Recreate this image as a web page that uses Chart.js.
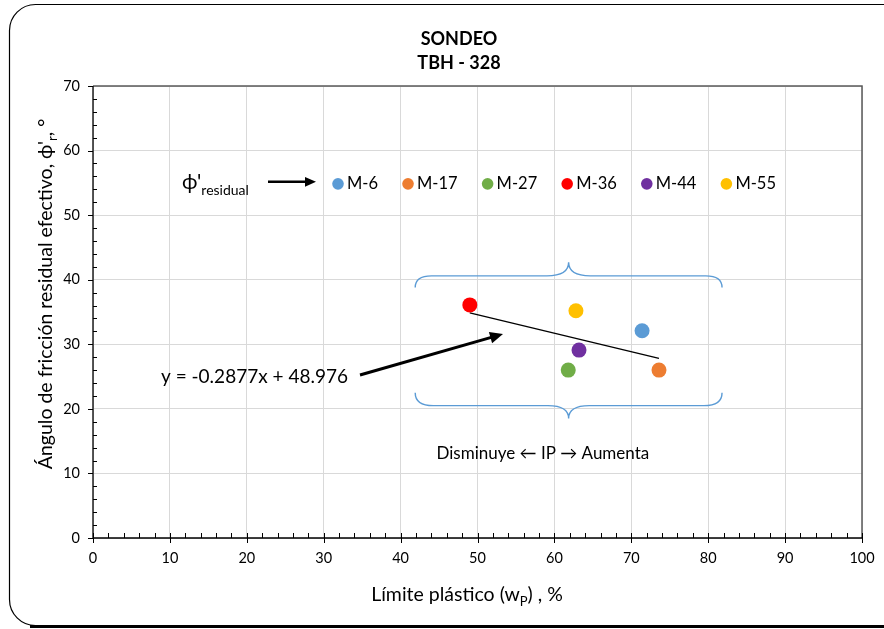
<!DOCTYPE html>
<html>
<head>
<meta charset="utf-8">
<title>Sondeo TBH - 328</title>
<script src="https://cdn.jsdelivr.net/npm/chart.js@4.4.1/dist/chart.umd.min.js"></script>
<style>
    body { margin: 0; background: #fff; }
    #wrap { width: 884px; height: 629px; }
</style>
</head>
<body>
<div id="wrap"><canvas id="chart" width="884" height="629"></canvas></div>
<script>
// Chart data
const sampleNames = ['M-6', 'M-17', 'M-27', 'M-36', 'M-44', 'M-55'];
const plasticLimit = [71.4, 73.6, 61.8, 49.0, 63.2, 62.8];      // w_P, %
const residualAngle = [32.1, 26.0, 26.0, 36.1, 29.1, 35.2];      // phi'_r, deg
const sampleColors = ['#5B9BD5', '#ED7D31', '#70AD47', '#FF0000', '#7030A0', '#FFC000'];

// trend line end points
const trendX = [49.0, 73.6];
const trendY = [34.88, 27.80];

const xTicks = [0, 10, 20, 30, 40, 50, 60, 70, 80, 90, 100];
const yTicks = [0, 10, 20, 30, 40, 50, 60, 70];

const titleLines = ['SONDEO', 'TBH - 328'];

const FONT = 'Lato, "Open Sans", sans-serif';

// draws text pieces, some of them as subscripts
function drawRuns(ctx, runs, size, x, y, align) {
    const subSize = Math.round(size * 0.68);
    let total = 0;
    runs.forEach(r => {
        ctx.font = (r.sub ? subSize : size) + 'px ' + FONT;
        r.w = ctx.measureText(r.t).width;
        total += r.w;
    });
    let cx = align === 'center' ? x - total / 2 : x;
    ctx.textAlign = 'left';
    ctx.textBaseline = 'alphabetic';
    runs.forEach(r => {
        ctx.font = (r.sub ? subSize : size) + 'px ' + FONT;
        ctx.fillText(r.t, cx, r.sub ? y + size * 0.28 : y);
        cx += r.w;
    });
}

function arrow(ctx, x1, y1, x2, y2, width, head) {
    const a = Math.atan2(y2 - y1, x2 - x1);
    ctx.save();
    ctx.strokeStyle = '#000';
    ctx.fillStyle = '#000';
    ctx.lineWidth = width;
    ctx.beginPath();
    ctx.moveTo(x1, y1);
    ctx.lineTo(x2 - Math.cos(a) * head * 0.8, y2 - Math.sin(a) * head * 0.8);
    ctx.stroke();
    ctx.beginPath();
    ctx.moveTo(x2, y2);
    ctx.lineTo(x2 - head * Math.cos(a) + head * 0.45 * Math.sin(a), y2 - head * Math.sin(a) - head * 0.45 * Math.cos(a));
    ctx.lineTo(x2 - head * Math.cos(a) - head * 0.45 * Math.sin(a), y2 - head * Math.sin(a) + head * 0.45 * Math.cos(a));
    ctx.closePath();
    ctx.fill();
    ctx.restore();
}

// horizontal curly brace
function brace(ctx, x1, x2, yLine, yEnd, yCusp) {
    const xm = (x1 + x2) / 2;
    const r = Math.abs(yLine - yEnd);
    const rc = Math.abs(yCusp - yLine);
    ctx.beginPath();
    ctx.moveTo(x1, yEnd);
    ctx.quadraticCurveTo(x1, yLine, x1 + r * 1.4, yLine);
    ctx.lineTo(xm - rc * 1.6, yLine);
    ctx.quadraticCurveTo(xm, yLine, xm, yCusp);
    ctx.quadraticCurveTo(xm, yLine, xm + rc * 1.6, yLine);
    ctx.lineTo(x2 - r * 1.4, yLine);
    ctx.quadraticCurveTo(x2, yLine, x2, yEnd);
    ctx.stroke();
}

const framePlugin = {
    id: 'frame',
    beforeDraw(chart) {
        const ctx = chart.ctx;
        ctx.save();
        // outer rounded frame
        ctx.strokeStyle = '#000';
        ctx.lineWidth = 1.2;
        ctx.beginPath();
        ctx.roundRect(9.5, 4.5, 900, 621, 26);
        ctx.stroke();
        ctx.lineWidth = 3;
        ctx.beginPath();
        ctx.moveTo(30, 626.5);
        ctx.lineTo(884, 626.5);
        ctx.stroke();
        ctx.restore();
    },
    afterDraw(chart) {
        const ctx = chart.ctx;
        const area = chart.chartArea;
        const xs = chart.scales.x, ys = chart.scales.y;
        ctx.save();
        // plot border
        ctx.strokeStyle = '#595959';
        ctx.lineWidth = 1.5;
        ctx.beginPath();
        ctx.moveTo(area.left, area.top);
        ctx.lineTo(area.right, area.top);
        ctx.lineTo(area.right, area.bottom);
        ctx.stroke();
        // axes
        ctx.strokeStyle = '#000';
        ctx.lineWidth = 1.3;
        ctx.beginPath();
        ctx.moveTo(area.left, area.top);
        ctx.lineTo(area.left, area.bottom);
        ctx.lineTo(area.right, area.bottom);
        ctx.stroke();
        ctx.lineWidth = 1;
        ctx.beginPath();
        for (let v = 0; v <= 70; v += 2) {
            const py = Math.round(ys.getPixelForValue(v)) + 0.5;
            if (v % 10 === 0) { ctx.moveTo(area.left - 5, py); ctx.lineTo(area.left, py); }
            else { ctx.moveTo(area.left, py); ctx.lineTo(area.left + 4, py); }
        }
        for (let v = 0; v <= 100; v += 2) {
            const px = Math.round(xs.getPixelForValue(v)) + 0.5;
            if (v % 10 === 0) { ctx.moveTo(px, area.bottom - 5); ctx.lineTo(px, area.bottom + 5); }
            else { ctx.moveTo(px, area.bottom - 5); ctx.lineTo(px, area.bottom); }
        }
        ctx.stroke();

        ctx.fillStyle = '#000';
        // title
        ctx.font = 'bold 18px ' + FONT;
        ctx.textAlign = 'center';
        ctx.textBaseline = 'middle';
        ctx.fillText(titleLines[0], 459, 39);
        ctx.fillText(titleLines[1], 459, 63);

        // axis titles
        drawRuns(ctx, [{ t: 'Límite plástico (w' }, { t: 'P', sub: true }, { t: ') , %' }], 19.5, 467, 601, 'center');
        ctx.save();
        ctx.translate(52, 294);
        ctx.rotate(-Math.PI / 2);
        drawRuns(ctx, [{ t: 'Ángulo de fricción residual efectivo, ϕ\'' }, { t: 'r', sub: true }, { t: ', °' }], 19.5, 0, 0, 'center');
        ctx.restore();

        // legend row
        const ly = ys.getPixelForValue(55);
        drawRuns(ctx, [{ t: 'ϕ\'' }, { t: 'residual', sub: true }], 21, 182, ly + 6, 'left');
        arrow(ctx, 268, ly - 1, 316, ly - 1, 2.5, 11);
        ctx.font = '16.5px ' + FONT;
        ctx.textBaseline = 'middle';
        let cx = 338;
        sampleNames.forEach((name, i) => {
            ctx.fillStyle = sampleColors[i];
            ctx.beginPath();
            ctx.arc(cx, ly + 1, 5.8, 0, Math.PI * 2);
            ctx.fill();
            ctx.fillStyle = '#000';
            ctx.textAlign = 'left';
            ctx.fillText(name, cx + 9, ly + 1);
            cx += 9 + ctx.measureText(name).width + 30;
        });

        // braces around the samples
        ctx.strokeStyle = '#5B9BD5';
        ctx.lineWidth = 1.4;
        const bx1 = xs.getPixelForValue(41.9), bx2 = xs.getPixelForValue(81.8);
        brace(ctx, bx1, bx2, ys.getPixelForValue(40.6), ys.getPixelForValue(38.8), ys.getPixelForValue(42.7));
        brace(ctx, bx1, bx2, ys.getPixelForValue(20.5), ys.getPixelForValue(22.5), ys.getPixelForValue(18.5));

        ctx.fillStyle = '#000';
        ctx.font = '17px ' + FONT;
        ctx.textAlign = 'center';
        ctx.textBaseline = 'middle';
        ctx.fillText('Disminuye ← IP → Aumenta', xs.getPixelForValue(58.5), ys.getPixelForValue(13.1));

        // trend equation + arrow
        ctx.font = '19px ' + FONT;
        ctx.textAlign = 'left';
        ctx.fillText('y = -0.2877x + 48.976', 161, ys.getPixelForValue(24.9));
        arrow(ctx, 360, 375, 503, 334, 3, 13);
        ctx.restore();
    }
};

new Chart(document.getElementById('chart'), {
    type: 'scatter',
    data: {
        datasets: [
            {
                label: 'Muestras',
                data: plasticLimit.map((x, i) => ({ x: x, y: residualAngle[i] })),
                backgroundColor: sampleColors,
                borderWidth: 0,
                pointRadius: 7.5,
                order: 1
            },
            {
                label: 'Tendencia',
                type: 'line',
                data: trendX.map((x, i) => ({ x: x, y: trendY[i] })),
                borderColor: '#000',
                borderWidth: 1.3,
                pointRadius: 0,
                fill: false,
                order: 2
            }
        ]
    },
    options: {
        responsive: false,
        animation: false,
        layout: { padding: { left: 0, right: 22, top: 86, bottom: 0 } },
        plugins: {
            legend: { display: false },
            tooltip: { enabled: false },
            title: { display: false }
        },
        scales: {
            x: {
                type: 'linear',
                min: 0, max: 100,
                afterBuildTicks: s => { s.ticks = xTicks.map(v => ({ value: v })); },
                afterFit: s => { s.height = 91; s.paddingLeft = 0; s.paddingRight = 0; },
                grid: { color: '#D9D9D9', drawTicks: false },
                border: { display: false },
                ticks: { color: '#000', padding: 12, font: { family: FONT, size: 14.5 } }
            },
            y: {
                type: 'linear',
                min: 0, max: 70,
                afterBuildTicks: s => { s.ticks = yTicks.map(v => ({ value: v })); },
                afterFit: s => { s.width = 93; s.paddingTop = 0; s.paddingBottom = 0; },
                grid: { color: '#D9D9D9', drawTicks: false },
                border: { display: false },
                ticks: { color: '#000', padding: 13, font: { family: FONT, size: 14.5 } }
            }
        }
    },
    plugins: [framePlugin]
});
</script>
</body>
</html>
